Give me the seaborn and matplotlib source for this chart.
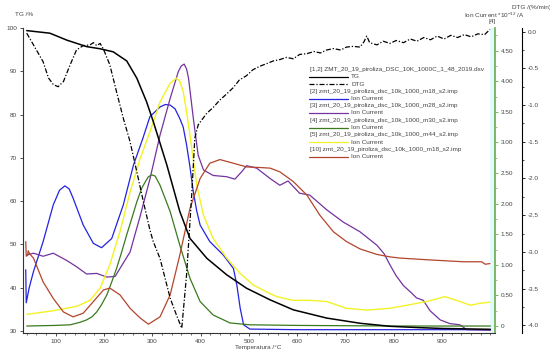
import matplotlib
matplotlib.use("Agg")
import matplotlib.pyplot as plt
from matplotlib.lines import Line2D
from matplotlib.ticker import MultipleLocator
import seaborn as sns

# --------------------------------------------------------------------------- #
# Data
# --------------------------------------------------------------------------- #
tg_t = [40, 88, 123, 164, 192, 219, 247, 268, 288, 302, 330, 357, 378, 413,
        454, 495, 544, 592, 661, 730, 792, 850, 900, 950, 1000]
tg_v = [99.4, 98.8, 97.2, 95.7, 95.2, 94.5, 92.4, 88.4, 83.0, 78.4, 68.4, 57.6,
        51.4, 46.8, 43.0, 39.9, 37.2, 34.9, 33.0, 31.8, 31.1, 30.8, 30.6, 30.5, 30.4]

dtg_t = [40, 54, 74, 85, 95, 105, 116, 130, 143, 157, 171, 178, 185, 192, 199,
         212, 226, 240, 254, 268, 281, 295, 302, 316, 337, 350, 361, 371, 382,
         388, 395, 405, 413, 425, 440, 452, 468, 480, 495, 508, 523, 535, 550,
         564, 578, 592, 605, 620, 635, 648, 661, 675, 690, 702, 716, 730, 738,
         744, 750, 765, 778, 792, 805, 820, 834, 848, 862, 876, 890, 904, 918,
         932, 946, 960, 974, 988, 999]
dtg_v = [-0.02, -0.18, -0.41, -0.63, -0.72, -0.75, -0.68, -0.45, -0.25, -0.19,
         -0.18, -0.15, -0.19, -0.16, -0.24, -0.45, -0.82, -1.18, -1.50, -1.91,
         -2.30, -2.70, -2.86, -3.09, -3.63, -3.86, -4.04, -3.31, -2.18, -1.45,
         -1.27, -1.18, -1.11, -1.04, -0.93, -0.86, -0.76, -0.66, -0.60, -0.52,
         -0.47, -0.44, -0.40, -0.38, -0.35, -0.37, -0.31, -0.30, -0.27, -0.29,
         -0.25, -0.23, -0.25, -0.21, -0.20, -0.21, -0.14, -0.06, -0.15, -0.18,
         -0.13, -0.16, -0.12, -0.15, -0.10, -0.13, -0.08, -0.11, -0.06, -0.10,
         -0.05, -0.08, -0.04, -0.07, -0.03, -0.04, 0.03]

m18_t = [38, 39, 45, 54, 74, 95, 108, 119, 128, 136, 157, 178, 195, 216, 240,
         261, 281, 295, 316, 327, 337, 347, 357, 364, 371, 378, 385, 392, 399,
         419, 447, 468, 475, 482, 489, 502, 600, 800, 1000]
m18_v = [0.92, 0.38, 0.62, 0.89, 1.38, 1.98, 2.22, 2.29, 2.24, 2.09, 1.65, 1.35,
         1.28, 1.43, 1.98, 2.63, 3.08, 3.42, 3.58, 3.62, 3.61, 3.55, 3.39, 3.25,
         2.96, 2.60, 2.19, 1.88, 1.65, 1.38, 1.16, 0.94, 0.67, 0.29, 0.02, -0.05,
         -0.06, -0.06, -0.06]

m28_t = [40, 54, 74, 95, 123, 143, 164, 185, 206, 223, 233, 254, 275, 295, 316,
         337, 354, 360, 366, 371, 375, 385, 395, 406, 426, 454, 471, 485, 495,
         516, 544, 564, 581, 605, 626, 661, 695, 730, 765, 780, 792, 805, 820,
         834, 847, 861, 875, 896, 916, 937, 951, 1000]
m28_v = [1.16, 1.19, 1.14, 1.19, 1.07, 0.97, 0.85, 0.86, 0.80, 0.81, 0.94, 1.21,
         1.80, 2.40, 3.12, 3.72, 4.16, 4.25, 4.28, 4.20, 4.05, 3.39, 2.79, 2.55,
         2.46, 2.44, 2.40, 2.52, 2.62, 2.58, 2.41, 2.30, 2.37, 2.17, 2.14, 1.90,
         1.70, 1.54, 1.32, 1.18, 1.00, 0.82, 0.66, 0.56, 0.46, 0.42, 0.25, 0.10,
         0.04, 0.02, -0.06, -0.07]

m30_t = [40, 100, 130, 150, 164, 175, 185, 195, 206, 216, 226, 237, 247, 258,
         268, 278, 288, 292, 299, 306, 316, 337, 357, 378, 399, 426, 461, 502,
         600, 800, 1000]
m30_v = [0.00, 0.01, 0.02, 0.06, 0.10, 0.15, 0.23, 0.35, 0.51, 0.72, 0.94, 1.22,
         1.49, 1.77, 2.03, 2.25, 2.39, 2.44, 2.47, 2.45, 2.30, 1.87, 1.32, 0.78,
         0.40, 0.18, 0.05, 0.02, 0.01, 0.00, 0.00]

m44_t = [40, 95, 143, 171, 192, 212, 233, 254, 275, 295, 316, 337, 350, 357,
         364, 371, 378, 392, 406, 426, 454, 482, 509, 544, 558, 592, 626, 661,
         702, 744, 792, 827, 868, 906, 937, 958, 978, 999]
m44_v = [0.19, 0.25, 0.32, 0.42, 0.62, 1.00, 1.54, 2.19, 2.74, 3.17, 3.66, 3.97,
         4.05, 4.00, 3.83, 3.50, 3.12, 2.30, 1.81, 1.43, 1.11, 0.86, 0.67, 0.53,
         0.48, 0.42, 0.42, 0.40, 0.29, 0.26, 0.29, 0.34, 0.40, 0.48, 0.40, 0.34,
         0.37, 0.39]

m18b_t = [38, 39, 42, 43, 46, 54, 74, 95, 116, 136, 157, 178, 199, 212, 233,
          254, 275, 292, 316, 337, 357, 378, 399, 419, 440, 468, 495, 523, 544,
          564, 592, 620, 647, 675, 702, 730, 765, 792, 813, 875, 944, 982, 989, 999]
m18b_v = [1.38, 1.14, 1.16, 1.23, 1.18, 1.11, 0.72, 0.45, 0.23, 0.15, 0.21, 0.40,
          0.59, 0.62, 0.51, 0.29, 0.13, 0.03, 0.15, 0.51, 1.16, 1.92, 2.41, 2.66,
          2.72, 2.66, 2.60, 2.59, 2.58, 2.52, 2.36, 2.14, 1.81, 1.54, 1.38, 1.26,
          1.17, 1.13, 1.11, 1.08, 1.05, 1.05, 1.01, 1.02]

tg_ticks = [30, 40, 50, 60, 70, 80, 90, 100]
x_ticks = [100, 200, 300, 400, 500, 600, 700, 800, 900]
ion_ticks = [0, 0.5, 1.0, 1.5, 2.0, 2.5, 3.0, 3.5, 4.0, 4.5]
ion_labels = ["0", "0.50", "1.00", "1.50", "2.00", "2.50", "3.00", "3.50", "4.00", "4.50"]
dtg_ticks = [0.0, -0.5, -1.0, -1.5, -2.0, -2.5, -3.0, -3.5, -4.0]
dtg_labels = ["0.0", "-0.5", "-1.0", "-1.5", "-2.0", "-2.5", "-3.0", "-3.5", "-4.0"]

DASHDOT = (0, (4, 1.5, 1, 1.5))
legend_rows = [
    ("[1,2] ZMT_20_19_piroliza_DSC_10K_1000C_1_48_2019.dsv", None, None),
    ("TG", "black", "-"),
    ("DTG", "black", DASHDOT),
    ("[2] zmt_20_19_piroliza_dsc_10k_1000_m18_s2.imp", None, None),
    ("Ion Current", "#2323e0", "-"),
    ("[3] zmt_20_19_piroliza_dsc_10k_1000_m28_s2.imp", None, None),
    ("Ion Current", "#7433a0", "-"),
    ("[4] zmt_20_19_piroliza_dsc_10k_1000_m30_s2.imp", None, None),
    ("Ion Current", "#3a7a1e", "-"),
    ("[5] zmt_20_19_piroliza_dsc_10k_1000_m44_s2.imp", None, None),
    ("Ion Current", "#f2f226", "-"),
    ("[10] zmt_20_19_piroliza_dsc_10k_1000_m18_s2.imp", None, None),
    ("Ion Current", "#b3452b", "-"),
]

# --------------------------------------------------------------------------- #
# Figure
# --------------------------------------------------------------------------- #
sns.set_theme(style="ticks")
plt.rcParams["font.family"] = ["Liberation Sans", "DejaVu Sans"]
plt.rcParams["mathtext.default"] = "regular"
FS = 4.6
W, H = 550, 355


def fx(px):
    return px / W


def fy(py):
    return 1 - py / H


fig = plt.figure(figsize=(5.5, 3.55), dpi=100)
ax = fig.add_axes([fx(22.7), fy(333), (495 - 22.7) / W, (333 - 28) / H])
ax_ion = ax.twinx()
ax_dtg = ax.twinx()

ax.set_xlim(31.7, 1009.5)
ax.set_ylim(29.55, 100)
ax_ion.set_ylim(-0.114, 4.87)
ax_dtg.set_ylim(-4.105, 0.05)

ax_ion.axvspan(1000, 1009.5, color="#e4fafa", lw=0, zorder=0)

sns.lineplot(x=m18_t, y=m18_v, ax=ax_ion, color="#2323e0", lw=0.9, sort=False, estimator=None)
sns.lineplot(x=m28_t, y=m28_v, ax=ax_ion, color="#7433a0", lw=0.9, sort=False, estimator=None)
sns.lineplot(x=m30_t, y=m30_v, ax=ax_ion, color="#3a7a1e", lw=0.9, sort=False, estimator=None)
sns.lineplot(x=m44_t, y=m44_v, ax=ax_ion, color="#f2f226", lw=1.0, sort=False, estimator=None)
sns.lineplot(x=m18b_t, y=m18b_v, ax=ax_ion, color="#b3452b", lw=0.9, sort=False, estimator=None)
sns.lineplot(x=tg_t, y=tg_v, ax=ax, color="black", lw=1.1, sort=False, estimator=None)
sns.lineplot(x=dtg_t, y=dtg_v, ax=ax_dtg, color="black", lw=0.9, sort=False,
             estimator=None, linestyle=DASHDOT)

# TG drawn above the twin axes
ax.set_zorder(ax_dtg.get_zorder() + 1)
ax.patch.set_visible(False)
ax.set_xlabel("")
ax.set_ylabel("")
for a in (ax_ion, ax_dtg):
    a.set_ylabel("")

# spines
ax.spines["top"].set_visible(False)
ax.spines["right"].set_visible(False)
ax.spines["left"].set_color("#333333")
ax.spines["bottom"].set_color("#333333")
for a in (ax_ion, ax_dtg):
    for s in ("top", "left", "bottom"):
        a.spines[s].set_visible(False)
ax_ion.spines["right"].set_color("#6aaa50")
ax_ion.spines["right"].set_linewidth(1.2)
ax_dtg.spines["right"].set_position(("outward", 19.5))
ax_dtg.spines["right"].set_color("black")
for sp in (ax.spines["left"], ax.spines["bottom"], ax_dtg.spines["right"]):
    sp.set_linewidth(0.8)

# ticks
ax.set_xticks(x_ticks)
ax.set_xticklabels([str(t) for t in x_ticks])
ax.xaxis.set_minor_locator(MultipleLocator(20))
ax.set_yticks(tg_ticks)
ax.set_yticklabels([str(t) for t in tg_ticks])
ax_ion.set_yticks(ion_ticks, ion_labels)
ax_ion.yaxis.set_minor_locator(MultipleLocator(0.25))
ax_dtg.set_yticks(dtg_ticks, dtg_labels)
ax_dtg.yaxis.set_minor_locator(MultipleLocator(0.25))

for a in (ax, ax_ion, ax_dtg):
    a.tick_params(which="major", labelsize=FS, length=2.5, width=0.6, pad=1.5,
                  colors="#333333", labelcolor="#444444")
    a.tick_params(which="minor", length=1.5, width=0.5, colors="#333333")
ax_ion.tick_params(axis="y", which="both", colors="#6aaa50", labelcolor="#444444")
ax_dtg.tick_params(axis="y", which="both", colors="black", labelcolor="#444444")

# axis labels
fig.text(fx(15), fy(15), "TG /%", fontsize=FS, color="#444444", va="center")
fig.text(fx(258), fy(347), "Temperatura /°C", fontsize=FS, color="#444444",
         ha="center", va="center")
fig.text(fx(531), fy(7.5), "DTG /(%/min)", fontsize=FS, color="#444444",
         ha="center", va="center")
fig.text(fx(494), fy(15.5), "Ion Current *10$^{-12}$ /A", fontsize=FS,
         color="#444444", ha="center", va="center")
fig.text(fx(492), fy(22), "[4]", fontsize=FS, color="#444444", ha="center", va="center")

# legend, drawn like the instrument software does it
for k, (label, col, ls) in enumerate(legend_rows):
    y = fy(69.5 + 7.25 * k)
    if col is None:
        fig.text(fx(310), y, label, fontsize=FS, color="#444444", va="center")
    else:
        fig.add_artist(Line2D([fx(309), fx(348)], [y, y], color=col, lw=0.9,
                              linestyle=ls, transform=fig.transFigure))
        fig.text(fx(351), y, label, fontsize=FS, color="#444444", va="center")

fig.savefig("out.png", dpi=100)
plt.close(fig)
